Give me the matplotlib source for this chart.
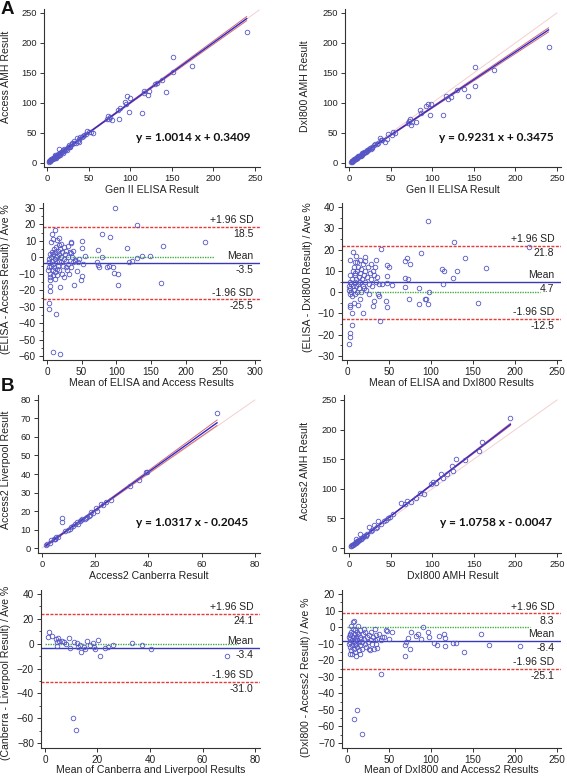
import numpy as np
import matplotlib
matplotlib.use("Agg")
import matplotlib.pyplot as plt
from matplotlib.ticker import MultipleLocator, AutoMinorLocator

plt.rcParams['font.family'] = ['Liberation Sans', 'DejaVu Sans']

# ---------------- DATA ----------------
# Panel A1: Gen II ELISA (x) vs Access AMH (y)
A1_x = [240, 152, 174, 151, 143, 138, 132, 130, 122, 121, 117, 116, 96, 100, 94, 95, 98, 114, 88, 85, 86, 76, 74, 73, 78, 72,
        55, 53, 48, 50, 47, 45, 40, 38, 37, 36, 33, 32, 30, 30, 28, 26, 25, 23, 22, 21, 20, 19, 18, 17, 16, 15, 14, 14, 13, 12,
        12, 11, 10, 10, 9, 8, 8, 7, 7, 6, 6, 5, 5, 4, 4, 3, 3, 2, 2, 35, 42, 27, 24, 19, 9, 16, 11, 13, 28, 43, 38]
A1_y = [218, 177, 162, 151, 118, 138, 133, 131, 120, 113, 117, 120, 112, 109, 102, 99, 85, 84, 91, 88, 74, 76, 74, 78, 72, 73,
        50, 52, 53, 51, 48, 47, 44, 40, 37, 41, 36, 33, 34, 31, 29, 27, 26, 24, 21, 23, 20, 21, 18, 19, 17, 16, 24, 14, 15, 13,
        11, 12, 11, 9, 10, 9, 8, 8, 7, 7, 6, 6, 5, 5, 4, 4, 3, 3, 2, 33, 43, 30, 22, 17, 13, 14, 9, 12, 27, 45, 35]
A1_slope, A1_icpt = 1.0014, 0.3409

# Panel A2: Gen II ELISA (x) vs DxI800 AMH (y)
A2_x = [240, 152, 174, 151, 143, 138, 130, 116, 119, 122, 113, 95, 99, 93, 97, 85, 87, 73, 74, 71, 80, 76, 72, 47, 51, 53, 55,
        37, 43, 38, 40, 31, 33, 30, 28, 26, 25, 23, 22, 20, 19, 18, 17, 16, 15, 14, 13, 12, 11, 10, 10, 9, 8, 8, 7, 7, 6, 6,
        5, 5, 4, 4, 3, 3, 2, 35, 45, 27, 24, 21, 18, 16, 14, 12, 9, 11]
A2_y = [193, 160, 155, 129, 112, 124, 121, 112, 106, 110, 80, 99, 98, 95, 80, 89, 84, 74, 63, 67, 69, 68, 70, 49, 46, 52, 50,
        42, 35, 38, 39, 31, 32, 30, 27, 24, 25, 22, 20, 19, 18, 17, 16, 15, 14, 13, 12, 11, 10, 10, 9, 8, 8, 7, 7, 6, 6, 5,
        5, 4, 4, 3, 3, 2, 2, 33, 40, 25, 23, 21, 18, 16, 12, 12, 9, 11]
A2_slope, A2_icpt = 0.9231, 0.3475

# Panel A3: Bland-Altman ELISA vs Access (mean, % difference)
A3_m = [98, 130, 79, 91, 50, 50, 115, 168, 228, 73, 79, 55, 137, 149, 130, 118, 123, 74, 72, 75, 86, 89, 95, 96, 103, 103,
        165, 50, 49, 39, 19, 43, 52, 41, 35, 34, 35, 8.5, 19, 13, 2.5, 3.5, 5, 4, 7, 12, 18, 15, 17, 20,
        2, 3, 3, 4, 5, 5, 6, 6, 7, 7, 8, 8, 9, 9, 10, 10, 11, 11, 12, 12, 13, 13, 14, 14, 15, 15, 16, 16, 17, 18, 18,
        19, 20, 20, 21, 22, 23, 24, 24, 25, 26, 27, 28, 28, 29, 30, 30, 31, 32, 33, 34, 36, 37, 38, 40, 44, 46, 6, 4, 3, 9]
A3_d = [30, 19.5, 14, 12.5, 10, 5.5, 5.5, 7, 9.5, 4.5, 0, 0.5, 0.5, 1, -0.3, -2.7, -2, -4.5, -3, -6, -5.6, -5, -5.8, -9.5,
        -10, -17, -15.5, -11.5, -14, -17, -18, -8.5, -4, -1.5, 2.5, 8.5, 9, -57.5, -58.5, -34.5, -31.5, -27.5, -20.5, -17.5,
        14, 16.5, 12, 10.5, 7.5, 8,
        -8, -6, -3, -10, -12, -14, -5, 0, -2, 3, -8, -11, 2, -4, -6, 5, -1, -13, -9, 3, 0, 6, -3, -7, 1, -11, 4, -5, -2, 2, -8,
        5, -3, 0, -10, 3, -5, 6, -1, -12, 2, -6, 4, -2, -8, 7, 0, -4, -10, 3, -6, 0, 4, -3, -2, -3, -1, 9, 2, -1, 11]
A3_mean, A3_upper, A3_lower = -3.5, 18.5, -25.5

# Panel A4: Bland-Altman ELISA vs DxI800
A4_m = [96, 127, 217, 88, 140, 165, 113, 116, 131, 126, 114, 98, 86, 86, 97, 94, 93, 74, 156, 69, 71, 75, 69, 73, 69, 48, 50,
        48, 48, 54, 47, 48, 40, 39, 31, 32, 19, 6, 6, 2.5, 3, 3, 7, 3, 11, 22, 21, 3, 4, 13, 8,
        2, 2, 3, 3, 4, 4, 5, 5, 6, 6, 7, 7, 8, 8, 9, 9, 10, 10, 11, 11, 12, 12, 13, 13, 14, 14, 15, 15, 16, 17, 17, 18, 19,
        19, 20, 21, 22, 23, 24, 25, 26, 27, 28, 29, 30, 31, 32, 33, 34, 35, 36, 38, 38, 37, 42, 26, 20, 12, 16, 9]
A4_d = [33.5, 23.8, 21.2, 18.3, 16, 11.5, 10.7, 9.8, 10, 6.8, 3.8, 0.2, 2.1, -5.6, -5.8, -3, -3.3, -3.3, -5, 14.8, 16, 13.3,
        6.5, 6, 2.5, 12.8, 12, 7.6, 4.4, 3.3, -4, -7, 20.2, -13.5, -6.6, -4, -9.7, -9.7, -15.5, -24.2, -21, -19, 19, 15, 17,
        16.7, 14.5, -7, -6, -6, -5,
        1, 3, 5, -1, 2, 8, 0, 4, 6, -2, 3, 10, 1, 12, 5, -1, 8, 14, 3, 6, 10, 0, 12, 4, 7, 2, 9, 15, 5, 11, 0, 6, 13, 3, 8,
        5, 10, 1, 7, 12, 4, 9, 6, 13, 3, 10, 8, 12, 5, 15, 7, -2, 4, -1, 4, -1, 2, 14, -3, 9]
A4_mean, A4_upper, A4_lower = 4.7, 21.8, -12.5

# Panel B1: Access2 Canberra (x) vs Access2 Liverpool (y)
B1_x = [65.8, 39.5, 39, 36.5, 33, 25.8, 24, 22.3, 20.4, 20.8, 18.6, 18, 17.5, 16.4, 15.2, 14.2, 13.2, 12.3, 11.5, 7.6, 7.6,
        8.5, 9.8, 5.4, 4.4, 3.5, 2.9, 1.4, 4.8, 6, 10.5, 13.5, 19, 17, 23, 14.5, 5, 2, 16, 11]
B1_y = [72.8, 41.3, 41, 36.5, 33.5, 26, 24.6, 23.9, 21.8, 20, 19.2, 18, 17.5, 16, 15.6, 14.4, 14, 13, 12, 16.2, 14, 9, 9.5,
        5.8, 5, 4.5, 2.7, 1.4, 5, 6, 10.5, 13, 19, 17, 23, 15, 4.8, 2.2, 15.8, 11.2]
B1_slope, B1_icpt = 1.0317, -0.2045

# Panel B2: DxI800 AMH (x) vs Access2 AMH (y)
B2_x = [194, 160, 156, 129, 124, 111, 113, 101, 98, 90, 85, 81, 70, 63, 67, 75, 53, 49, 47, 45, 35, 30, 13, 24, 125, 118,
        105, 140, 28, 32, 26, 22, 20, 18, 16, 15, 14, 12, 11, 10, 9, 8, 7, 6, 5, 4, 3, 2.5, 4, 6, 8, 9, 10, 12, 38, 42, 34,
        20, 17]
B2_y = [219, 178.5, 163, 150.5, 139, 124.5, 118, 112, 108, 91, 92.5, 84, 80, 76, 74, 78.5, 57, 53, 50, 48, 46, 39, 24, 35,
        130, 125, 110, 148, 30, 34, 28, 24, 22, 20, 17, 16, 15, 13, 12, 11, 10, 9, 8, 6.5, 5.5, 4.5, 3.3, 2.7, 5, 7, 10, 15,
        12, 14, 40, 45, 36, 21, 18]
B2_slope, B2_icpt = 1.0758, -0.0047

# Panel B3: Bland-Altman Canberra vs Liverpool
B3_m = [1.5, 1, 2.8, 4.2, 4.4, 5, 5.5, 4.4, 6.3, 7.2, 9.3, 8, 9.5, 11, 12.1, 13.3, 13.7, 12.7, 14.9, 15.2, 16.1, 17.1, 18.2,
        18.5, 19, 20.3, 21, 22.9, 24.1, 26, 33, 36.8, 40.4, 69.5, 10.5, 11.8]
B3_d = [9.7, 5.7, 6.2, 3.6, 1.7, 4.4, 2.5, -1.8, 2.2, 1.5, 4.4, -0.4, -3.7, 1.7, 0.4, -1, -7.1, -2.3, -2.3, -4.2, 1.8, -1,
        0.9, -3, -4.5, 3, -9.6, -3.1, -2.3, -1, 0.9, -1, -4.2, -9.6, -60, -69.3]
B3_mean, B3_upper, B3_lower = -3.4, 24.1, -31.0

# Panel B4: Bland-Altman DxI800 vs Access2
B4_m = [159, 169, 206, 139, 126, 130, 116, 117, 117, 110, 107, 104, 98, 96, 90, 88.5, 82.5, 84, 76.6, 74.6, 73, 70.6, 69,
        68.7, 54, 50, 48, 40.9, 8.3, 11.9, 18.3, 7.1, 8.7, 5.2, 13, 10.3, 33, 46.4, 44.4, 35.6, 25.7,
        2, 3, 3, 4, 4, 5, 5, 6, 6, 7, 7, 8, 8, 9, 9, 10, 10, 11, 11, 12, 12, 13, 14, 14, 15, 16, 16, 17, 18, 18, 19, 20,
        21, 22, 23, 24, 25, 26, 27, 28, 29, 30, 31, 32, 33, 34, 35, 36, 38, 40, 42, 20, 15, 6, 12, 9, 4, 3, 2]
B4_d = [-4.3, -10.7, -11.7, -14.8, -9.7, -9.5, -4.1, -6.7, -11.7, -5.3, -10.7, -9.3, -6.1, -2.7, -0.1, -7.3, -5.3, -4, -2.7,
        -13.3, -6.7, -8.7, -11.1, -17.4, -3.1, -7.3, -2.1, -28.4, -55.5, -49.9, -64.4, 3.3, 3.9, 0.4, 0.4, -17.4, -1.3, -2,
        -5.7, -12.8, -13.4,
        -10, -7, -12, -5, -9, -14, -3, -8, -11, -1, -6, -13, -9, -4, -7, -15, -2, -10, -6, -8, -12, -4, -9, -14, -6, -11, -2,
        -7, -9, -13, -4, -7, -10, -3, -12, -6, -9, -5, -14, -8, -3, -10, -6, -13, -8, -5, -10, -7, -4, -8, -6, -1, -16, -16,
        -3, -11, -16, -4, -6]
B4_mean, B4_upper, B4_lower = -8.4, 8.3, -25.1

# ---------------- STYLE / LAYOUT ----------------
W, H = 567, 776
fig = plt.figure(figsize=(W / 100, H / 100), dpi=100)

MARK = '#5656c6'
REG = '#2a2ad2'
CI = '#d86868'
IDENT = '#f5cfcf'
TXT = '#222222'


def add_ax(l, r, t, b):
    return fig.add_axes([l / W, 1 - b / H, (r - l) / W, (b - t) / H])


def style(ax, box, xlim, ylim, xstep, ystep, yminor, fs, xlabel, ylabel, ylab_px, xlab_top_px):
    l, r, t, b = box
    ax.set_xlim(*xlim)
    ax.set_ylim(*ylim)
    for s in ('top', 'right'):
        ax.spines[s].set_visible(False)
    for s in ('left', 'bottom'):
        ax.spines[s].set_color('#333333')
        ax.spines[s].set_linewidth(0.8)
    ax.xaxis.set_major_locator(MultipleLocator(xstep))
    ax.yaxis.set_major_locator(MultipleLocator(ystep))
    if yminor:
        ax.yaxis.set_minor_locator(AutoMinorLocator(yminor))
    ax.tick_params(which='major', direction='out', length=3, width=0.7, colors='#333333',
                   labelsize=fs, labelcolor=TXT, pad=2)
    ax.tick_params(which='minor', direction='out', length=1.8, width=0.6, colors='#333333')
    ax.set_xlabel(xlabel, fontsize=7.6, color=TXT)
    ax.set_ylabel(ylabel, fontsize=7.6, color=TXT)
    xc, yc = ylab_px
    ax.yaxis.set_label_coords((xc + 4 - l) / (r - l), (b - yc) / (b - t))
    ax.xaxis.set_label_coords(0.5, (b - xlab_top_px) / (b - t))


def scatter_panel(ax, x, y, slope, icpt, ident_max, eq, eq_pos):
    x = np.asarray(x, float)
    y = np.asarray(y, float)
    ax.plot([0, ident_max], [0, ident_max], color=IDENT, lw=0.7, zorder=1)
    xs = np.linspace(x.min(), x.max(), 200)
    yfit = slope * xs + icpt
    res = y - (slope * x + icpt)
    n = len(x)
    s = np.sqrt(np.sum(res ** 2) / (n - 2))
    xbar = x.mean()
    sxx = np.sum((x - xbar) ** 2)
    band = 1.15 * s * np.sqrt(1.0 / n + (xs - xbar) ** 2 / sxx)
    ax.plot(xs, yfit + band, color=CI, lw=0.7, zorder=2)
    ax.plot(xs, yfit - band, color=CI, lw=0.7, zorder=2)
    ax.plot(xs, yfit, color=REG, lw=1.0, zorder=3)
    ax.plot(x, y, 'o', mfc='none', mec=MARK, ms=3.3, mew=0.6, zorder=4)
    ax.text(eq_pos[0], eq_pos[1], eq, transform=ax.transAxes, ha='right', va='center',
            fontsize=8.6, fontweight='bold', family=['Lato', 'DejaVu Sans'], color='#111111')


def ba_panel(ax, m, d, mean, upper, lower, fs):
    m = np.asarray(m, float)
    d = np.asarray(d, float)
    ax.axhline(upper, color='#e83c3c', lw=1.0, ls=(0, (2.2, 1.0)), zorder=2)
    ax.axhline(lower, color='#e83c3c', lw=1.0, ls=(0, (2.2, 1.0)), zorder=2)
    ax.axhline(mean, color='#3838b8', lw=1.0, zorder=2)
    ax.plot([0, m.max() * 1.06], [0, 0], color='#44b044', lw=1.0, ls=(0, (1, 0.8)), zorder=2)
    ax.plot(m, d, 'o', mfc='none', mec=MARK, ms=3.3, mew=0.6, zorder=4)
    tr = ax.get_yaxis_transform()
    for val, name in ((upper, '+1.96 SD'), (mean, 'Mean'), (lower, '-1.96 SD')):
        ax.annotate(name, xy=(1, val), xycoords=tr, xytext=(-4.8, 4.8), textcoords='offset points',
                    ha='right', va='center', fontsize=fs + 0.3, color=TXT)
        ax.annotate(f'{val:.1f}', xy=(1, val), xycoords=tr, xytext=(-4.8, -5.2), textcoords='offset points',
                    ha='right', va='center', fontsize=fs + 0.3, color=TXT)


# ---- A1
box = (43.7, 260, 9.4, 167.2)
ax = add_ax(*box)
style(ax, box, (-4, 256), (-7, 256), 50, 50, None, 6.7, 'Gen II ELISA Result', 'Access AMH Result', (7, 77), 185)
scatter_panel(ax, A1_x, A1_y, A1_slope, A1_icpt, 255, 'y = 1.0014 x + 0.3409', (0.954, 0.19))

# ---- A2
box = (345, 561, 9.4, 167.2)
ax = add_ax(*box)
style(ax, box, (-5, 255), (-7, 256), 50, 50, None, 6.7, 'Gen II ELISA Result', 'DxI800 AMH Result', (306, 86), 185)
scatter_panel(ax, A2_x, A2_y, A2_slope, A2_icpt, 250, 'y = 0.9231 x + 0.3475', (0.967, 0.19))

# ---- A3
box = (43, 260, 203, 360)
ax = add_ax(*box)
style(ax, box, (-5.8, 307.4), (-62.4, 33), 50, 10, 2, 7.2, 'Mean of ELISA and Access Results',
      '(ELISA - Access Result) / Ave %', (7, 279), 378)
ba_panel(ax, A3_m, A3_d, A3_mean, A3_upper, A3_lower, 7.2)

# ---- A4
box = (342, 561, 203, 360)
ax = add_ax(*box)
style(ax, box, (-5.95, 254.8), (-31.9, 41.9), 50, 10, 2, 7.2, 'Mean of ELISA and DxI800 Results',
      '(ELISA - DxI800 Result) / Ave %', (309, 277), 378)
ba_panel(ax, A4_m, A4_d, A4_mean, A4_upper, A4_lower, 7.2)

# ---- B1
box = (38, 260, 395, 553)
ax = add_ax(*box)
style(ax, box, (-1.5, 81.95), (-2.7, 82.7), 20, 10, None, 6.7, 'Access2 Canberra Result',
      'Access2 Liverpool Result', (7, 470), 571)
scatter_panel(ax, B1_x, B1_y, B1_slope, B1_icpt, 80, 'y = 1.0317 x - 0.2045', (0.946, 0.196))

# ---- B2
box = (344, 561, 395, 553)
ax = add_ax(*box)
style(ax, box, (-6, 254.8), (-8.4, 258.4), 50, 50, None, 6.7, 'DxI800 AMH Result',
      'Access2 AMH Result', (306, 471), 571)
scatter_panel(ax, B2_x, B2_y, B2_slope, B2_icpt, 250, 'y = 1.0758 x - 0.0047', (0.958, 0.196))

# ---- B3
box = (41, 260, 590, 748)
ax = add_ax(*box)
style(ax, box, (-1.52, 81.9), (-84, 43.2), 20, 20, 2, 7.2, 'Mean of Canberra and Liverpool Results',
      '(Canberra - Liverpool Result) / Ave %', (7, 673), 765)
ba_panel(ax, B3_m, B3_d, B3_mean, B3_upper, B3_lower, 7.2)

# ---- B4
box = (342, 561, 590, 748)
ax = add_ax(*box)
style(ax, box, (-5.95, 254.8), (-73, 22.4), 50, 10, 2, 7.2, 'Mean of DxI800 and Access2 Results',
      '(DxI800 - Access2 Result) / Ave %', (307, 677), 765)
ba_panel(ax, B4_m, B4_d, B4_mean, B4_upper, B4_lower, 7.2)

fig.text(1 / W, 1 - 0.5 / H, 'A', fontsize=13.5, fontweight='bold', va='top', ha='left', color='#111111')
fig.text(1 / W, 1 - 378 / H, 'B', fontsize=13.5, fontweight='bold', va='top', ha='left', color='#111111')

fig.savefig('out.png', dpi=100, facecolor='white')
